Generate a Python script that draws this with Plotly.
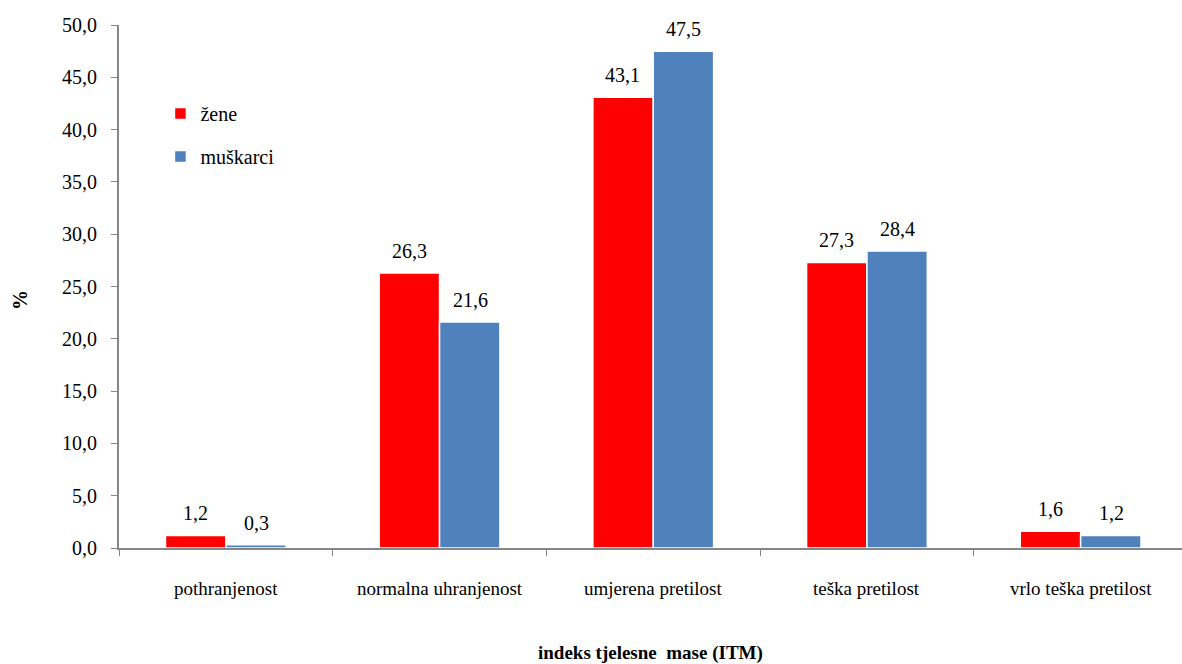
import plotly.graph_objects as go

categories = ["pothranjenost", "normalna uhranjenost", "umjerena pretilost",
              "teška pretilost", "vrlo teška pretilost"]
zene = [1.2, 26.3, 43.1, 27.3, 1.6]
muskarci = [0.3, 21.6, 47.5, 28.4, 1.2]
y_ticks = [0, 5, 10, 15, 20, 25, 30, 35, 40, 45, 50]

FONT = "Liberation Serif"
RED = "#FF0000"
BLUE = "#4F81BD"
AXIS = "#868686"


def fmt(v):
    return f"{v:.1f}".replace(".", ",")


def tfont(size=20):
    return dict(family=FONT, size=size, color="black")


fig = go.Figure()
fig.add_trace(go.Bar(x=categories, y=zene, name="žene", marker_color=RED,
                     marker_line=dict(color="white", width=1.5), legendgroup="a"))
fig.add_trace(go.Bar(x=categories, y=muskarci, name="muškarci", marker_color=BLUE,
                     marker_line=dict(color="white", width=1.5), legendgroup="b"))

# value labels above each bar
for series, shift in ((zene, -30.5), (muskarci, 30.5)):
    for cat, v in zip(categories, series):
        fig.add_annotation(x=cat, y=v, xref="x", yref="y", text=fmt(v),
                           showarrow=False, xshift=shift, yanchor="bottom",
                           yshift=9, font=tfont(20))

# category labels below the axis
for cat in categories:
    fig.add_annotation(x=cat, y=0, xref="x", yref="paper", text=cat,
                       showarrow=False, yanchor="middle", yshift=-40, font=tfont(19))

fig.add_annotation(text="<b>%</b>", x=-0.106, y=0.475, xref="paper", yref="paper",
                   showarrow=False, textangle=-90, font=tfont(20))
fig.add_annotation(text="<b>indeks tjelesne&nbsp; mase (ITM)</b>", x=0.5, y=-0.2,
                   xref="paper", yref="paper", xanchor="center", yanchor="middle",
                   showarrow=False, font=tfont(19))

span = (1182 - 119) / 213.7

fig.update_layout(
    width=1182, height=664,
    margin=dict(l=119, r=0, t=25, b=116),
    paper_bgcolor="white", plot_bgcolor="white",
    barmode="group", bargap=0.435, bargroupgap=0.0,
    showlegend=True,
    legend=dict(x=0.039, y=0.868, xanchor="left", yanchor="top",
                font=tfont(20), tracegroupgap=14, bgcolor="rgba(0,0,0,0)"),
)
fig.update_xaxes(type="category", range=[-0.5, -0.5 + span], tickson="boundaries",
                 ticks="outside", ticklen=6, tickcolor=AXIS, showline=True,
                 linecolor=AXIS, linewidth=2, showgrid=False, zeroline=False,
                 showticklabels=False)
fig.update_yaxes(range=[0, 50], tickvals=y_ticks,
                 ticktext=[fmt(v) + "\u00a0\u00a0" for v in y_ticks],
                 ticks="outside", ticklen=6, tickcolor=AXIS, showline=True,
                 linecolor=AXIS, linewidth=2, showgrid=False, zeroline=False,
                 tickfont=tfont(20))

fig.write_html("out.html")
